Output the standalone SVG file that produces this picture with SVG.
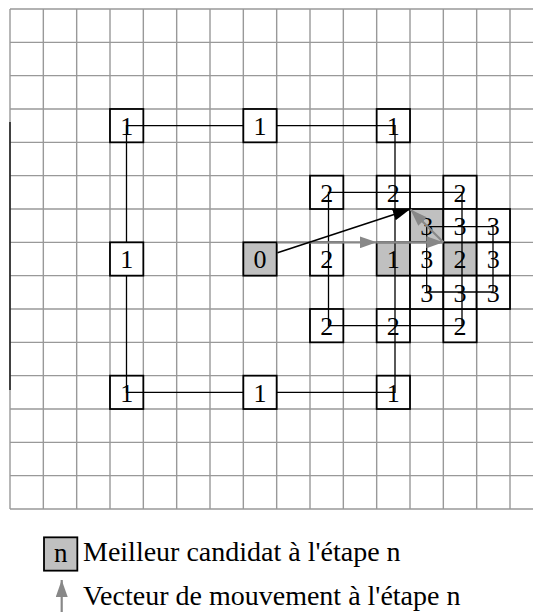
<svg xmlns="http://www.w3.org/2000/svg" width="533" height="612" viewBox="0 0 533 612">
<style>
.grid{stroke:#999;stroke-width:1.4;fill:none}
.box{stroke:#000;stroke-width:1.8;fill:#fff}
.best{fill:#c0c0c0}
.d{font-family:"Liberation Serif","Times New Roman",serif;font-size:26px;text-anchor:middle;fill:#000}
.lg{font-family:"Liberation Serif","Times New Roman",serif;font-size:28px;fill:#000}
.con{stroke:#000;stroke-width:1.3;fill:none}
.ga{stroke:#888;stroke-width:2.2;fill:none}
.ba{stroke:#000;stroke-width:1.6;fill:none}
</style>
<defs>
<marker id="mg" markerUnits="userSpaceOnUse" markerWidth="18" markerHeight="12" refX="17" refY="6" orient="auto"><path d="M0,0 L17,6 L0,12 z" fill="#888"/></marker>
<marker id="mb" markerUnits="userSpaceOnUse" markerWidth="18" markerHeight="12" refX="17" refY="6" orient="auto"><path d="M0,0 L17,6 L0,12 z" fill="#000"/></marker>
</defs>
<g id="grid">
<path class="grid" d="M10 9V509M43.33 9V509M76.67 9V509M110 9V509M143.33 9V509M176.67 9V509M210 9V509M243.33 9V509M276.67 9V509M310 9V509M343.33 9V509M376.67 9V509M410 9V509M443.33 9V509M476.67 9V509M510 9V509"/>
<path class="grid" d="M10 9H533M10 42.33H533M10 75.67H533M10 109H533M10 142.33H533M10 175.67H533M10 209H533M10 242.33H533M10 275.67H533M10 309H533M10 342.33H533M10 375.67H533M10 409H533M10 442.33H533M10 475.67H533M10 509H533"/>
<path d="M10 122V390" stroke="#000" stroke-width="1.3"/>
</g>
<g id="n1-tl"><rect class="box" x="110" y="109" width="33.33" height="33.33"/><text class="d" x="126.67" y="135">1</text></g>
<g id="n1-tr"><rect class="box" x="376.67" y="109" width="33.33" height="33.33"/><text class="d" x="393.33" y="135">1</text></g>
<g id="n1-r"><rect class="box best" x="376.67" y="242.33" width="33.33" height="33.33"/><text class="d" x="393.33" y="268.33">1</text></g>
<g id="n1-bl"><rect class="box" x="110" y="375.67" width="33.33" height="33.33"/><text class="d" x="126.67" y="401.67">1</text></g>
<g id="n1-br"><rect class="box" x="376.67" y="375.67" width="33.33" height="33.33"/><text class="d" x="393.33" y="401.67">1</text></g>
<g id="n0"><rect class="box best" x="243.33" y="242.33" width="33.33" height="33.33"/><text class="d" x="260" y="268.33">0</text></g>
<g id="n2-tl"><rect class="box" x="310" y="175.67" width="33.33" height="33.33"/><text class="d" x="326.67" y="201.67">2</text></g>
<g id="n2-t"><rect class="box" x="376.67" y="175.67" width="33.33" height="33.33"/><text class="d" x="393.33" y="201.67">2</text></g>
<g id="n2-tr"><rect class="box" x="443.33" y="175.67" width="33.33" height="33.33"/><text class="d" x="460" y="201.67">2</text></g>
<g id="n2-l"><rect class="box" x="310" y="242.33" width="33.33" height="33.33"/><text class="d" x="326.67" y="268.33">2</text></g>
<g id="n2-r"><rect class="box best" x="443.33" y="242.33" width="33.33" height="33.33"/><text class="d" x="460" y="268.33">2</text></g>
<g id="n2-bl"><rect class="box" x="310" y="309" width="33.33" height="33.33"/><text class="d" x="326.67" y="335">2</text></g>
<g id="n2-b"><rect class="box" x="376.67" y="309" width="33.33" height="33.33"/><text class="d" x="393.33" y="335">2</text></g>
<g id="n2-br"><rect class="box" x="443.33" y="309" width="33.33" height="33.33"/><text class="d" x="460" y="335">2</text></g>
<g id="n3-tl"><rect class="box best" x="410" y="209" width="33.33" height="33.33"/><text class="d" x="426.67" y="235">3</text></g>
<g id="n3-t"><rect class="box" x="443.33" y="209" width="33.33" height="33.33"/><text class="d" x="460" y="235">3</text></g>
<g id="n3-tr"><rect class="box" x="476.67" y="209" width="33.33" height="33.33"/><text class="d" x="493.33" y="235">3</text></g>
<g id="n3-l"><rect class="box" x="410" y="242.33" width="33.33" height="33.33"/><text class="d" x="426.67" y="268.33">3</text></g>
<g id="n3-r"><rect class="box" x="476.67" y="242.33" width="33.33" height="33.33"/><text class="d" x="493.33" y="268.33">3</text></g>
<g id="n3-bl"><rect class="box" x="410" y="275.67" width="33.33" height="33.33"/><text class="d" x="426.67" y="301.67">3</text></g>
<g id="n3-b"><rect class="box" x="443.33" y="275.67" width="33.33" height="33.33"/><text class="d" x="460" y="301.67">3</text></g>
<g id="n3-br"><rect class="box" x="476.67" y="275.67" width="33.33" height="33.33"/><text class="d" x="493.33" y="301.67">3</text></g>
<g id="connectors">
<path class="con" d="M126.5 125.7H395V392.3H126.5Z"/>
<path class="con" d="M328.5 192.3H462V325.7H328.5Z"/>
<path class="con" d="M426.7 226.7H493V292H426.7Z"/>
</g>
<g id="n1-t"><rect class="box" x="243.33" y="109" width="33.33" height="33.33"/><text class="d" x="260" y="135">1</text></g>
<g id="n1-l"><rect class="box" x="110" y="242.33" width="33.33" height="33.33"/><text class="d" x="126.67" y="268.33">1</text></g>
<g id="n1-b"><rect class="box" x="243.33" y="375.67" width="33.33" height="33.33"/><text class="d" x="260" y="401.67">1</text></g>
<g id="arrows">
<path class="ga" d="M277.5 242.33H376.67" marker-end="url(#mg)"/>
<path class="ga" d="M376.67 242.33H443.33" marker-end="url(#mg)"/>
<path class="ga" d="M443.33 242.33L410.5 209.5" marker-end="url(#mg)"/>
<path class="ba" d="M277.5 252.7L410 209.3" marker-end="url(#mb)"/>
</g>
<g id="legend">
<rect class="box best" x="44" y="537.33" width="33.33" height="33.33"/>
<text class="d" x="60.67" y="562" style="font-size:27px">n</text>
<text class="lg" x="83" y="561">Meilleur candidat à l'étape n</text>
<path class="ga" d="M61.7 612V580" marker-end="url(#mg)"/>
<text class="lg" x="83" y="605">Vecteur de mouvement à l'étape n</text>
</g>
</svg>
